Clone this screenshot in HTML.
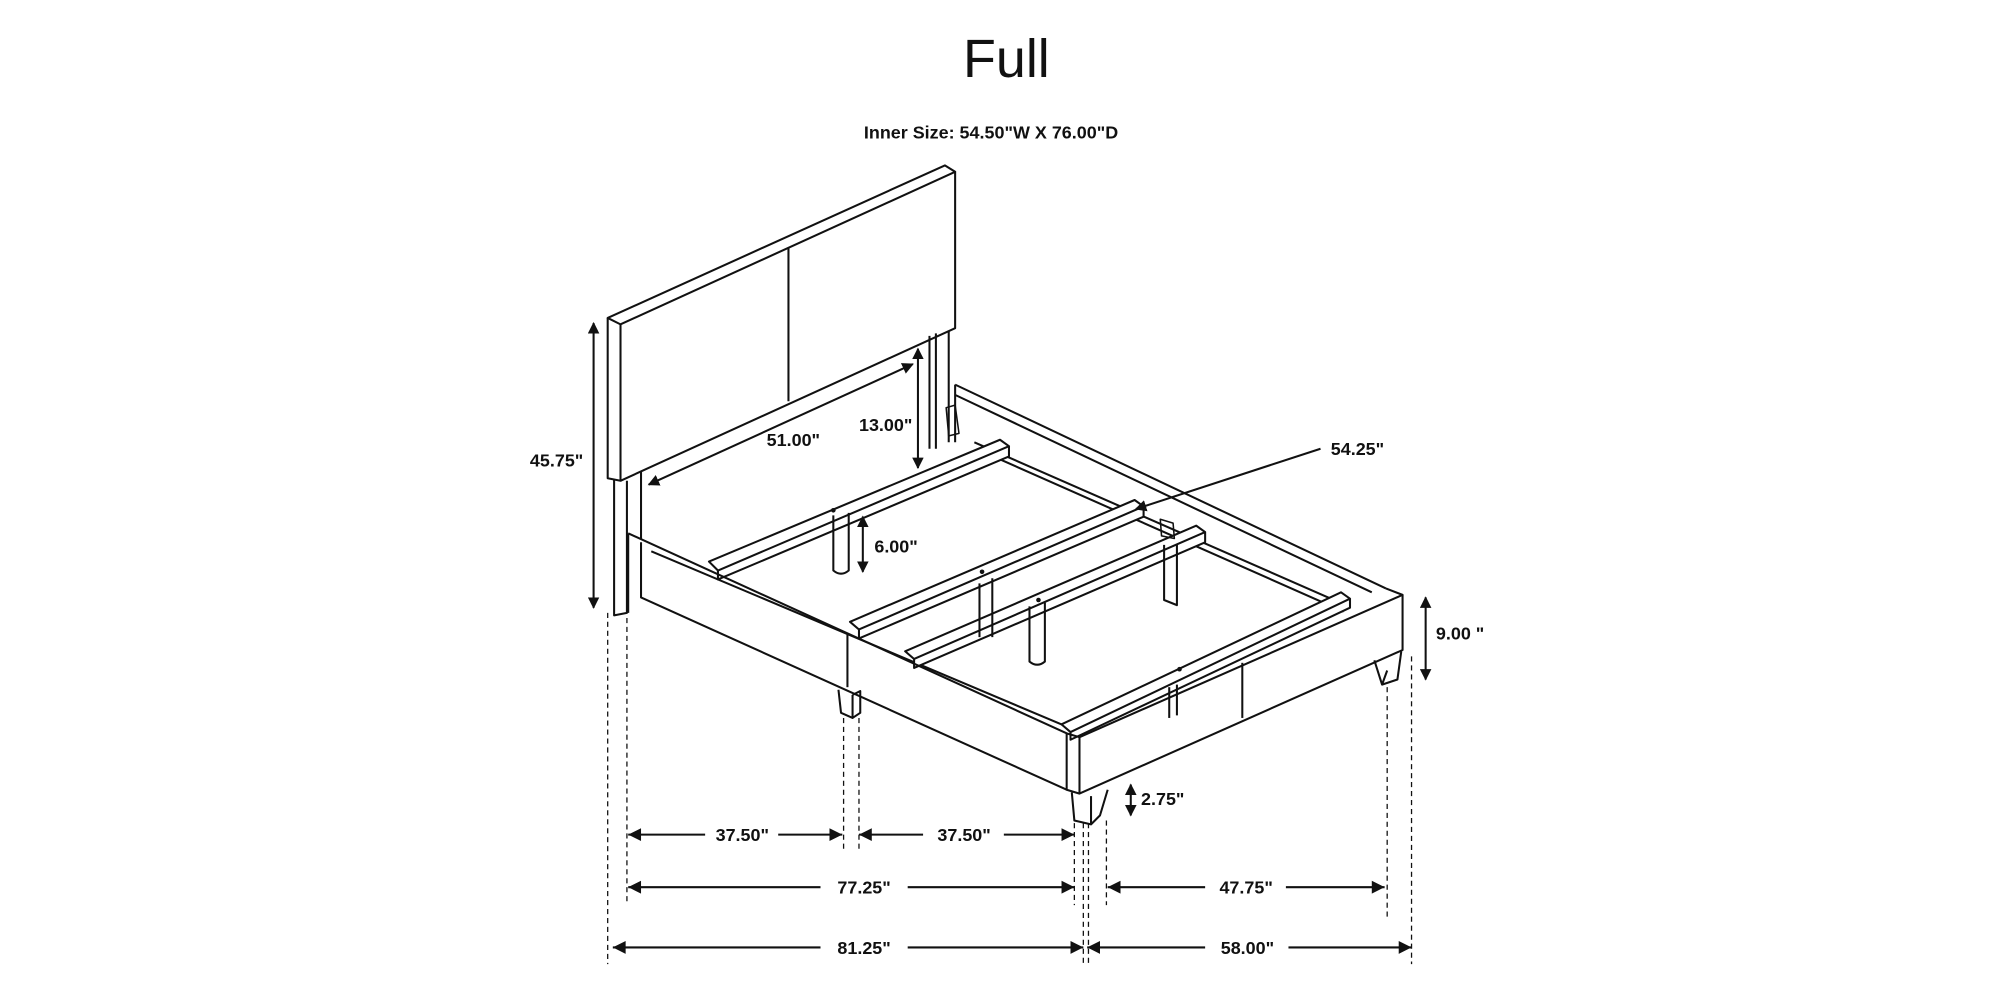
<!DOCTYPE html>
<html><head><meta charset="utf-8"><style>
html,body{margin:0;padding:0;background:#fff;}
svg{display:block;}
text{font-family:"Liberation Sans",Arial,sans-serif;fill:#111;}
.d{font-weight:bold;font-size:14px;}
</style></head><body>
<svg width="2000" height="1000" viewBox="0 0 1560 780" xmlns="http://www.w3.org/2000/svg">
<defs>
<marker id="a" viewBox="0 0 10 10" refX="9" refY="5" markerWidth="9" markerHeight="9" orient="auto-start-reverse" markerUnits="userSpaceOnUse"><path d="M0,0 L10,5 L0,10 z" fill="#111"/></marker>
</defs>
<rect width="1560" height="780" fill="#fff"/>
<text x="785" y="60" font-size="42" text-anchor="middle">Full</text>
<text x="773" y="108" class="d" font-size="16" text-anchor="middle">Inner Size: 54.50"W X 76.00"D</text>

<g stroke="#111" stroke-width="1.6" fill="none" stroke-linejoin="round">
<path d="M474,248 L737,129 L745,134 L484,253 Z" fill="#fff"/>
<path d="M474,248 L474,373 L484,375 L484,253"/>
<path d="M484,375 L745,256 L745,134"/>
<line x1="615" y1="193" x2="615" y2="313"/>
<path d="M479,374 L479,480 L489,478 L489,375"/>
<line x1="500" y1="368" x2="500" y2="420"/>
<path d="M725,262 L725,350 M730,260 L730,350 M740,258 L740,345"/>
<path d="M745,300 L1081,459 M745,308 L1070,462 M745,300 L745,345"/>
<path d="M738,318 L745,316 L748,338 L740,340 Z" stroke-width="1.2"/>
<path d="M760,345 L1045,470 M768,353 L1048,477"/>
<path d="M508,430 L835,568"/>
<path d="M553,438 L780,343 L787,348 L560,445 Z M560,445 L560,452 L787,356 L787,348" fill="#fff"/>
<path d="M663,485 L885,390 L892,395 L670,491 Z M670,491 L670,498 L892,403 L892,395" fill="#fff"/>
<path d="M706,508 L933,410 L940,415 L713,514 Z M713,514 L713,521 L940,423 L940,415" fill="#fff"/>
<path d="M828,565 L1046,462 L1053,467 L835,571 Z M835,571 L835,577 L1053,474 L1053,467" fill="#fff"/>
<path d="M650,402 L650,445 Q656,450 662,445 L662,400"/>
<path d="M764,455 L764,497 M774,451 L774,497"/>
<path d="M803,473 L803,516 Q809,521 815,516 L815,470"/>
<path d="M908,425 L908,468 L918,472 L918,425"/>
<path d="M905,405 L915,408 L916,420 L906,418 Z" stroke-width="1.2"/>
<path d="M490,416 L832,572 L842,575 L1094,464 L1081,459" fill="none"/>
<path d="M500,423 L500,466 L832,616"/>
<path d="M490,416 L490,478"/>
<line x1="661" y1="494" x2="661" y2="536"/>
<path d="M842,575 L842,619 L1094,507 L1094,464"/>
<path d="M832,572 L832,616 L842,619"/>
<line x1="969" y1="517" x2="969" y2="560"/>
<line x1="912" y1="536" x2="912" y2="560"/>
<line x1="918" y1="534" x2="918" y2="558"/>
<path d="M654,538 L656,556 L665,560 L665,542 M665,542 L671,539 L671,556 L665,560"/>
<path d="M836,618 L838,640 L851,643 L858,636 L864,616 M851,643 L851,621"/>
<path d="M1072,515 L1078,534 L1090,530 L1093,508 M1078,534 L1082,523"/>
</g>
<g fill="#111">
<circle cx="650" cy="398" r="1.8"/><circle cx="766" cy="446" r="1.8"/><circle cx="810" cy="468" r="1.8"/><circle cx="920" cy="522" r="1.8"/>
</g>

<g stroke="#111" stroke-width="1.6" fill="none">
<line x1="463" y1="252" x2="463" y2="474" marker-start="url(#a)" marker-end="url(#a)"/>
<line x1="506" y1="378" x2="712" y2="284" marker-start="url(#a)" marker-end="url(#a)"/>
<line x1="716" y1="272" x2="716" y2="365" marker-start="url(#a)" marker-end="url(#a)"/>
<line x1="1030" y1="350" x2="886" y2="397" marker-end="url(#a)"/>
<line x1="673" y1="403" x2="673" y2="446" marker-start="url(#a)" marker-end="url(#a)"/>
<line x1="1112" y1="466" x2="1112" y2="530" marker-start="url(#a)" marker-end="url(#a)"/>
<line x1="882" y1="612" x2="882" y2="636" marker-start="url(#a)" marker-end="url(#a)"/>
<path d="M490,651 L550,651 M607,651 L657,651" />
<path d="M670,651 L720,651 M783,651 L838,651"/>
<path d="M490,692 L640,692 M708,692 L838,692"/>
<path d="M864,692 L940,692 M1003,692 L1080,692"/>
<path d="M478,739 L640,739 M708,739 L845,739"/>
<path d="M848,739 L940,739 M1005,739 L1101,739"/>
</g>
<g fill="#111">
<path d="M490,651 l10,-5 v10z M657,651 l-10,-5 v10z M670,651 l10,-5 v10z M838,651 l-10,-5 v10z"/>
<path d="M490,692 l10,-5 v10z M838,692 l-10,-5 v10z M864,692 l10,-5 v10z M1080,692 l-10,-5 v10z"/>
<path d="M478,739 l10,-5 v10z M845,739 l-10,-5 v10z M848,739 l10,-5 v10z M1101,739 l-10,-5 v10z"/>
</g>
<g stroke="#111" stroke-width="1" stroke-dasharray="4,3">
<line x1="474" y1="478" x2="474" y2="752"/>
<line x1="489" y1="482" x2="489" y2="706"/>
<line x1="658" y1="560" x2="658" y2="665"/>
<line x1="670" y1="560" x2="670" y2="665"/>
<line x1="838" y1="642" x2="838" y2="706"/>
<line x1="845" y1="642" x2="845" y2="752"/>
<line x1="849" y1="642" x2="849" y2="752"/>
<line x1="863" y1="640" x2="863" y2="706"/>
<line x1="1082" y1="536" x2="1082" y2="716"/>
<line x1="1101" y1="512" x2="1101" y2="752"/>
</g>
<g class="d">
<text x="455" y="364" text-anchor="end" class="d">45.75"</text>
<text x="598" y="348" class="d">51.00"</text>
<text x="670" y="336" class="d">13.00"</text>
<text x="1038" y="355" class="d">54.25"</text>
<text x="682" y="431" class="d">6.00"</text>
<text x="1120" y="499" class="d">9.00 "</text>
<text x="890" y="628" class="d">2.75"</text>
<text x="579" y="656" text-anchor="middle" class="d">37.50"</text>
<text x="752" y="656" text-anchor="middle" class="d">37.50"</text>
<text x="674" y="697" text-anchor="middle" class="d">77.25"</text>
<text x="972" y="697" text-anchor="middle" class="d">47.75"</text>
<text x="674" y="744" text-anchor="middle" class="d">81.25"</text>
<text x="973" y="744" text-anchor="middle" class="d">58.00"</text>
</g>
</svg>
</body></html>
